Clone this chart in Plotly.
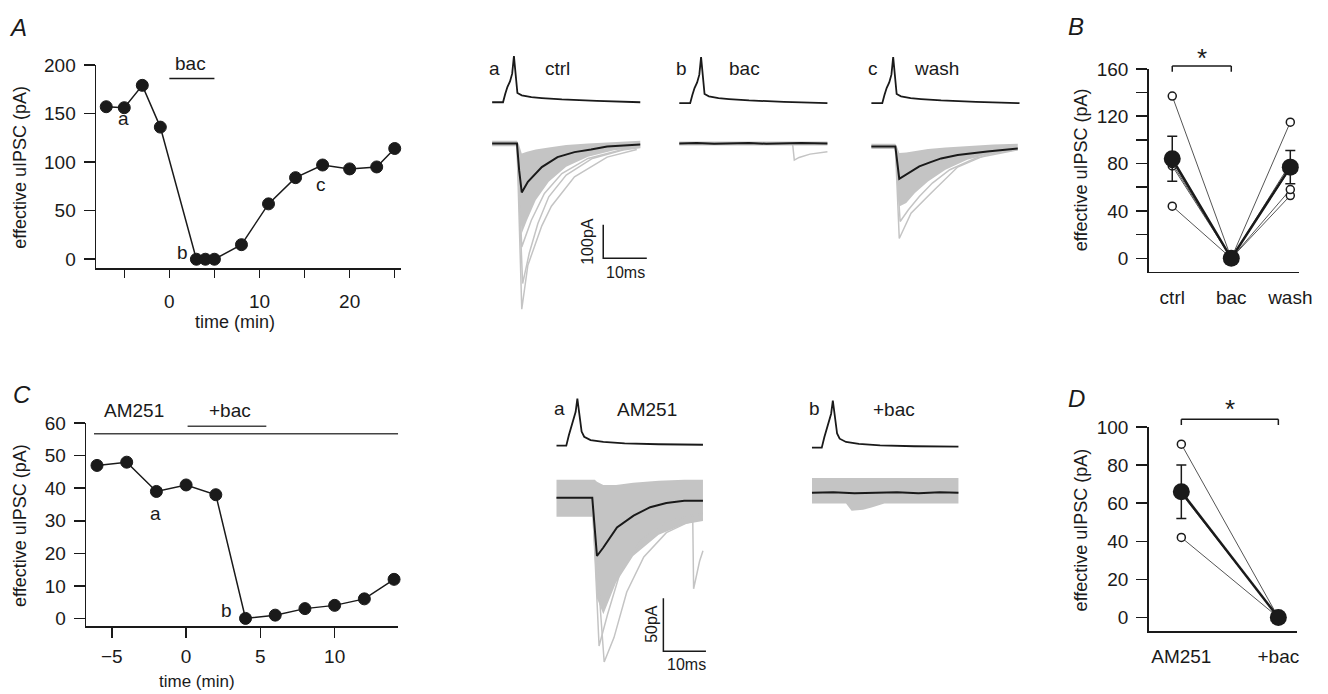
import plotly.graph_objects as go

W, H = 1328, 694
FONT = "Arial, 'Liberation Sans', Helvetica, sans-serif"
INK = "#1a1a1a"
GRAY = "#c4c4c4"

# ---------------- data ----------------
# Panel A: time course
a_time = [-7, -5, -3, -1, 3, 4, 5, 8, 11, 14, 17, 20, 23, 25]
a_ipsc = [157, 156, 179, 136, 0, 0, 0, 15, 57, 84, 97, 93, 95, 114]
a_bac_period = [0, 5]
a_bac_level = 186

# Panel B: summary
b_cats = ["ctrl", "bac", "wash"]
b_ctrl = [137, 44, 78, 82, 80]
b_bac = [0, 0, 0, 0, 0]
b_wash = [115, 53, 58, 80, 76]
b_mean = [84, 0, 77]
b_sem = [19, 0, 14]

# Panel C: time course with AM251
c_time = [-6, -4, -2, 0, 2, 4, 6, 8, 10, 12, 14]
c_ipsc = [47, 48, 39, 41, 38, 0, 1, 3, 4, 6, 12]
c_am251_period = [-6.2, 14.3]
c_am251_level = 56.7
c_bac_period = [0.1, 5.4]
c_bac_level = 59

# Panel D: summary
d_cats = ["AM251", "+bac"]
d_am251 = [91, 42, 65]
d_bac = [0, 0, 0]
d_mean = [66, 0]
d_sem = [14, 0]

# Presynaptic action potentials (relative units, time in ms)
ap_t = [0, 2.5, 3.0, 3.5, 4.1, 4.6, 5.0, 5.4, 5.8, 6.8, 9, 11.4, 16, 24, 34]
ap_v = [0, 0, 18, 33, 45, 62, 100, 55, 20, 15, 11, 9, 6, 3, 0]
ap2_t = [0, 2.3, 2.9, 3.5, 4.0, 4.5, 4.9, 5.4, 5.9, 6.5, 8, 11, 16, 24, 34.4]
ap2_v = [0, 0, 22, 40, 56, 72, 100, 60, 30, 19, 12, 8, 5, 3, 2]

# ctrl uIPSCs (pA vs ms)
ctrl_t = [0, 5.7, 6.2, 6.8, 8.2, 11.4, 15, 18.9, 22.7, 26.4, 30.2, 34]
ctrl_mean = [0, 0, -80, -147, -115, -71, -41, -26, -18, -9, -6, -3]
ctrl_g1_t = [0, 5.7, 6.8, 8.2, 11.4, 13.6, 18.9, 26.4, 33.2]
ctrl_g1 = [0, 0, -497, -365, -247, -188, -100, -41, -18]
ctrl_g2_t = [0, 5.7, 6.8, 9, 12, 16, 22, 30, 34]
ctrl_g2 = [0, 0, -310, -230, -150, -90, -45, -18, -10]
ctrl_g3_t = [0, 5.7, 7.0, 8.5, 10.5, 13, 17, 23, 30, 34]
ctrl_g3 = [0, 0, -420, -330, -240, -160, -95, -45, -20, -12]
ctrl_band_t = [0, 5.7, 6.2, 6.8, 8, 10, 13, 17, 22, 28, 34]
ctrl_band_hi = [8, 8, -5, -30, -25, -18, -12, -5, 0, 5, 8]
ctrl_band_lo = [-8, -8, -180, -270, -230, -170, -115, -70, -40, -20, -12]

# bac uIPSCs
bac_t = [0, 4, 8, 12, 16, 20, 24, 28, 34]
bac_mean = [0, 1, -1, 0, 1, -1, 0, 1, 0]
bac_band_t = [0, 34]
bac_band_hi = [6, 6]
bac_band_lo = [-6, -6]
bac_g_t = [0, 26, 26.4, 27.5, 30, 34]
bac_g = [0, 0, -50, -42, -32, -25]

# wash uIPSCs
wash_t = [0, 5.5, 6.4, 7.5, 9.1, 11, 13.6, 16, 19.8, 26.6, 33.6]
wash_mean = [0, 0, -97, -88, -76, -60, -47, -36, -26, -15, -6]
wash_g_t = [0, 5.5, 6.4, 9.1, 13.6, 19.8, 26.6, 33.6]
wash_g = [0, 0, -276, -200, -141, -62, -24, -8]
wash_g2_t = [0, 5.5, 6.6, 8.5, 11, 14, 18, 24, 33.6]
wash_g2 = [0, 0, -225, -190, -150, -110, -70, -35, -10]
wash_band_t = [0, 5.5, 6.0, 6.4, 8, 10, 13, 17, 22, 28, 33.6]
wash_band_hi = [8, 8, -5, -20, -18, -14, -8, -3, 2, 6, 8]
wash_band_lo = [-8, -8, -120, -180, -170, -140, -105, -70, -40, -20, -12]

# AM251 uIPSCs
am_t = [0, 8.4, 9.5, 11, 14.2, 18.1, 22, 25.8, 30, 34.4]
am_mean = [0, 0, -55, -47, -28, -17, -9, -5, -3, -3]
am_g1_t = [0, 8.4, 11.2, 13.5, 16.5, 20.5, 25.8, 30.5, 34.4]
am_g1 = [0, 0, -155, -132, -89, -56, -33, -24, -20]
am_g2_t = [0, 8.4, 10, 12, 15, 20, 26, 34.4]
am_g2 = [0, 0, -140, -110, -70, -40, -22, -15]
am_band_t = [0, 8.4, 9.0, 9.5, 11, 14, 18, 24, 30, 34.4]
am_band_hi = [17, 17, 17, 15, 12, 12, 14, 16, 17, 17]
am_band_lo = [-18, -18, -60, -95, -110, -80, -55, -35, -25, -22]
am_spont_t = [31.5, 32.0, 32.2, 33.0, 33.6, 34.4]
am_spont = [-15, -20, -86, -70, -60, -50]

# AM251 + bac uIPSCs
amb_t = [0, 5, 10, 15, 20, 25, 30, 34.4]
amb_mean = [0, 0.5, -0.5, 0, 0.5, -0.5, 0.5, 0]
amb_band_t = [0, 8, 9.3, 12, 14, 17, 34.4]
amb_band_hi = [14, 14, 14, 14, 14, 14, 14]
amb_band_lo = [-10, -10, -17, -16, -14, -10, -10]

# scale bars (pA, ms)
scale_top = dict(pa=100, ms=10)
scale_bot = dict(pa=50, ms=10)

# ---------------- helpers ----------------
fig = go.Figure()
layout = {}
n_axes = [0]


def px_x(p):
    return p / W


def px_y(p):
    return 1 - p / H


def add_axes(xdom_px, ydom_px, xrange, yrange, xopts=None, yopts=None):
    n_axes[0] += 1
    i = n_axes[0]
    sfx = "" if i == 1 else str(i)
    xa = dict(domain=[px_x(xdom_px[0]), px_x(xdom_px[1])], range=xrange,
              anchor="y" + sfx, visible=False, fixedrange=True, showgrid=False,
              zeroline=False)
    ya = dict(domain=[px_y(ydom_px[1]), px_y(ydom_px[0])], range=yrange,
              anchor="x" + sfx, visible=False, fixedrange=True, showgrid=False,
              zeroline=False)
    if xopts:
        xa.update(xopts)
    if yopts:
        ya.update(yopts)
    layout["xaxis" + sfx] = xa
    layout["yaxis" + sfx] = ya
    return "x" + sfx, "y" + sfx


def trace_axes(origin, left, right, top, bottom, baseline, sx, sy):
    xr = [(left - origin) / sx, (right - origin) / sx]
    yr = [(baseline - bottom) / sy, (baseline - top) / sy]
    return add_axes([left, right], [top, bottom], xr, yr)


def line(x, y, ax, color=INK, width=1.5, **kw):
    fig.add_trace(go.Scatter(x=x, y=y, xaxis=ax[0], yaxis=ax[1], mode="lines",
                             line=dict(color=color, width=width), hoverinfo="skip",
                             showlegend=False, **kw))


def band(t, hi, lo, ax, color=GRAY):
    fig.add_trace(go.Scatter(x=list(t) + list(t[::-1]), y=list(hi) + list(lo[::-1]),
                             xaxis=ax[0], yaxis=ax[1], mode="lines", fill="toself",
                             fillcolor=color, line=dict(width=0, color=color),
                             hoverinfo="skip", showlegend=False))


annotations = []
shapes = []


def text(s, x, y, size=19, angle=0, italic=False, xref="paper", yref="paper"):
    xx = px_x(x) if xref == "paper" else x
    yy = px_y(y) if yref == "paper" else y
    annotations.append(dict(text=s, x=xx, y=yy, xref=xref, yref=yref, showarrow=False,
                            textangle=angle, xanchor="center", yanchor="middle",
                            font=dict(family=FONT, size=size, color=INK,
                                      style="italic" if italic else "normal")))


AX_COMMON = dict(visible=True, showline=True, linecolor=INK, linewidth=1.5,
                 ticks="outside", tickcolor=INK, tickwidth=1.5,
                 tickfont=dict(family=FONT, size=19, color=INK))

# ---------------- Panel A ----------------
axA = add_axes([97, 405], [56, 263], [-8.13, 25.7], [-9.09, 200],
               xopts=dict(AX_COMMON, tickvals=[-5, 0, 5, 10, 15, 20, 25],
                          ticktext=["", "0", "", "10", "", "20", ""], ticklen=8,
                          ticklabelstandoff=8),
               yopts=dict(AX_COMMON, tickvals=[0, 50, 100, 150, 200], ticklen=11,
                          ticklabelstandoff=4))
line(a_bac_period, [a_bac_level] * 2, axA, width=1.5)
fig.add_trace(go.Scatter(x=a_time, y=a_ipsc, xaxis=axA[0], yaxis=axA[1],
                         mode="lines+markers", line=dict(color=INK, width=1.5),
                         marker=dict(size=12, color=INK, line=dict(color=INK, width=1)),
                         cliponaxis=False, showlegend=False, hoverinfo="skip"))
text("A", 18, 18, size=24, italic=True)
text("bac", 192, 55)
text("a", 125, 111)
text("b", 184, 247)
text("c", 324, 178)
text("effective uIPSC (pA)", 20, 160, size=18, angle=-90)
text("time (min)", 171 + 9.1 * 7.3, 318, size=18)

# ---------------- Panel B ----------------
axB = add_axes([1160, 1312], [60, 267], [-0.40, 2.15], [-11.6, 160],
               xopts=dict(AX_COMMON, tickvals=[0, 1, 2], ticktext=b_cats, ticks="",
                          ticklabelstandoff=8),
               yopts=dict(AX_COMMON, tickvals=list(range(0, 161, 20)),
                          ticktext=["0", "", "40", "", "80", "", "120", "", "160"],
                          ticklen=11, ticklabelstandoff=4))
for c, b, w in zip(b_ctrl, b_bac, b_wash):
    line([0, 1, 2], [c, b, w], axB, color="#555555", width=1)
line([0, 1, 2], b_mean, axB, color=INK, width=2.5)
fig.add_trace(go.Scatter(x=[0] * len(b_ctrl) + [2] * len(b_wash), y=b_ctrl + b_wash,
                         xaxis=axB[0], yaxis=axB[1], mode="markers",
                         marker=dict(size=8, color="white", line=dict(color=INK, width=1.5)),
                         cliponaxis=False, showlegend=False, hoverinfo="skip"))
fig.add_trace(go.Scatter(x=[0, 1, 2], y=b_mean, xaxis=axB[0], yaxis=axB[1], mode="markers",
                         marker=dict(size=17, color=INK),
                         error_y=dict(type="data", array=b_sem, color=INK, thickness=1.5, width=5),
                         cliponaxis=False, showlegend=False, hoverinfo="skip"))
text("B", 1087, 17, size=24, italic=True)
text("effective uIPSC (pA)", 1092, 163, size=18, angle=-90)

# ---------------- Panel C ----------------
axC = add_axes([87, 402], [421, 628], [-6.73, 14.27], [-2.41, 60],
               xopts=dict(AX_COMMON, tickvals=[-5, 0, 5, 10], ticklen=10,
                          ticklabelstandoff=2),
               yopts=dict(AX_COMMON, tickvals=list(range(0, 61, 10)), ticklen=11,
                          ticklabelstandoff=4))
line(c_am251_period, [c_am251_level] * 2, axC, color="#444444", width=1.5)
line(c_bac_period, [c_bac_level] * 2, axC, color="#444444", width=1.5)
fig.add_trace(go.Scatter(x=c_time, y=c_ipsc, xaxis=axC[0], yaxis=axC[1],
                         mode="lines+markers", line=dict(color=INK, width=1.5),
                         marker=dict(size=12, color=INK, line=dict(color=INK, width=1)),
                         cliponaxis=False, showlegend=False, hoverinfo="skip"))
text("C", 22, 392, size=24, italic=True)
text("AM251", 135, 408)
text("+bac", 232, 408)
text("a", 157, 513)
text("b", 229, 612)
text("effective uIPSC (pA)", 20, 525, size=18, angle=-90)
text("time (min)", 188 + 15 * 0.7, 684, size=17)

# ---------------- Panel D ----------------
axD = add_axes([1160, 1310], [425, 633], [-0.337, 1.194], [-7.2, 100],
               xopts=dict(AX_COMMON, tickvals=[0, 1], ticktext=d_cats, ticks="",
                          ticklabelstandoff=8),
               yopts=dict(AX_COMMON, tickvals=list(range(0, 101, 20)), ticklen=11,
                          ticklabelstandoff=4))
for a, b in zip(d_am251, d_bac):
    line([0, 1], [a, b], axD, color="#555555", width=1)
line([0, 1], d_mean, axD, color=INK, width=2.5)
fig.add_trace(go.Scatter(x=[0] * len(d_am251), y=d_am251, xaxis=axD[0], yaxis=axD[1],
                         mode="markers",
                         marker=dict(size=8, color="white", line=dict(color=INK, width=1.5)),
                         cliponaxis=False, showlegend=False, hoverinfo="skip"))
fig.add_trace(go.Scatter(x=[0, 1], y=d_mean, xaxis=axD[0], yaxis=axD[1], mode="markers",
                         marker=dict(size=17, color=INK),
                         error_y=dict(type="data", array=d_sem, color=INK, thickness=1.5, width=5),
                         cliponaxis=False, showlegend=False, hoverinfo="skip"))
text("D", 1087, 396, size=24, italic=True)
text("effective uIPSC (pA)", 1092, 530, size=18, angle=-90)

# significance brackets (x in data, y in paper)
for ax, x0, x1, ytop, ystar in [(axB, 0, 1, 57, 45), (axD, 0, 1, 417, 403)]:
    for (xa, ya, xb, yb) in [(x0, ytop, x1, ytop), (x0, ytop, x0, ytop + 6), (x1, ytop, x1, ytop + 6)]:
        shapes.append(dict(type="line", xref=ax[0], yref="paper", x0=xa, x1=xb,
                           y0=px_y(ya), y1=px_y(yb), line=dict(color=INK, width=1.5)))
    annotations.append(dict(text="*", x=(x0 + x1) / 2, y=px_y(ystar + 4), xref=ax[0], yref="paper",
                            showarrow=False, font=dict(family=FONT, size=26, color=INK),
                            xanchor="center", yanchor="middle"))

# ---------------- Traces, top row ----------------
SX, SY, SYAP = 4.4, 0.34, 0.47
cols_top = [
    (497, 136, 94, "a", "ctrl"),
    (686, 136, 95, "b", "bac"),
    (880, 139, 95, "c", "wash"),
]
ax_ap = []
ax_cur = []
for origin, base, apbase, lab, name in cols_top:
    ax_ap.append(trace_axes(origin, origin - 2, origin + 165, 40, 105, apbase, SX, SYAP))
    ax_cur.append(trace_axes(origin, origin - 2, origin + 165, 115, 320, base, SX, SY))
    text(lab, origin + 2, 60)
    text(name, origin + 66, 60)

for ax in ax_ap:
    line(ap_t, ap_v, ax, width=1.8)

band(ctrl_band_t, ctrl_band_hi, ctrl_band_lo, ax_cur[0])
line(ctrl_g1_t, ctrl_g1, ax_cur[0], color=GRAY, width=1.5)
line(ctrl_g3_t, ctrl_g3, ax_cur[0], color=GRAY, width=1.5)
line(ctrl_g2_t, ctrl_g2, ax_cur[0], color=GRAY, width=1.5)
line(ctrl_t, ctrl_mean, ax_cur[0], width=2)

band(bac_band_t, bac_band_hi, bac_band_lo, ax_cur[1])
line(bac_g_t, bac_g, ax_cur[1], color=GRAY, width=1.5)
line(bac_t, bac_mean, ax_cur[1], width=2)

band(wash_band_t, wash_band_hi, wash_band_lo, ax_cur[2])
line(wash_g_t, wash_g, ax_cur[2], color=GRAY, width=1.5)
line(wash_g2_t, wash_g2, ax_cur[2], color=GRAY, width=1.5)
line(wash_t, wash_mean, ax_cur[2], width=2)

# scale bar top
sb_x = 25.5
sb_y = -244
line([sb_x, sb_x, sb_x + scale_top["ms"]], [sb_y, sb_y - scale_top["pa"], sb_y - scale_top["pa"]],
     ax_cur[0], width=1.5)
text("100pA", 593, 236, size=16, angle=-90)
text("10ms", 632, 268, size=16)

# ---------------- Traces, bottom row ----------------
SX2, SY2, SYAP2 = 4.3, 1.08, 0.48
cols_bot = [
    (562, 497, 444, "a", "AM251", 653),
    (820, 492, 446, "b", "+bac", 903),
]
ax_ap2 = []
ax_cur2 = []
for origin, base, apbase, lab, name, namex in cols_bot:
    ax_ap2.append(trace_axes(origin, origin - 2, origin + 160, 385, 452, apbase, SX2, SYAP2))
    ax_cur2.append(trace_axes(origin, origin - 2, origin + 160, 465, 690, base, SX2, SY2))
    text(lab, origin + 3, 406)
    text(name, namex, 407)

for ax in ax_ap2:
    line(ap2_t, ap2_v, ax, width=1.8)

band(am_band_t, am_band_hi, am_band_lo, ax_cur2[0])
line(am_g1_t, am_g1, ax_cur2[0], color=GRAY, width=1.5)
line(am_g2_t, am_g2, ax_cur2[0], color=GRAY, width=1.5)
line(am_spont_t, am_spont, ax_cur2[0], color=GRAY, width=1.5)
line(am_t, am_mean, ax_cur2[0], width=2)

band(amb_band_t, amb_band_hi, amb_band_lo, ax_cur2[1])
line(amb_t, amb_mean, ax_cur2[1], width=2)

sb2_x = 25.1
sb2_y = -95
line([sb2_x, sb2_x, sb2_x + scale_bot["ms"]], [sb2_y, sb2_y - scale_bot["pa"], sb2_y - scale_bot["pa"]],
     ax_cur2[0], width=1.5)
text("50pA", 658, 626, size=16, angle=-90)
text("10ms", 693, 667, size=16)

fig.update_layout(width=W, height=H, margin=dict(l=0, r=0, t=0, b=0),
                  paper_bgcolor="white", plot_bgcolor="rgba(0,0,0,0)",
                  showlegend=False, annotations=annotations, shapes=shapes,
                  font=dict(family=FONT, color=INK), **layout)
fig.write_html("out.html", config={"displayModeBar": False, "staticPlot": True},
               post_script="document.body.style.margin='0';document.body.style.padding='0';"
                           "document.documentElement.style.overflow='hidden';")
